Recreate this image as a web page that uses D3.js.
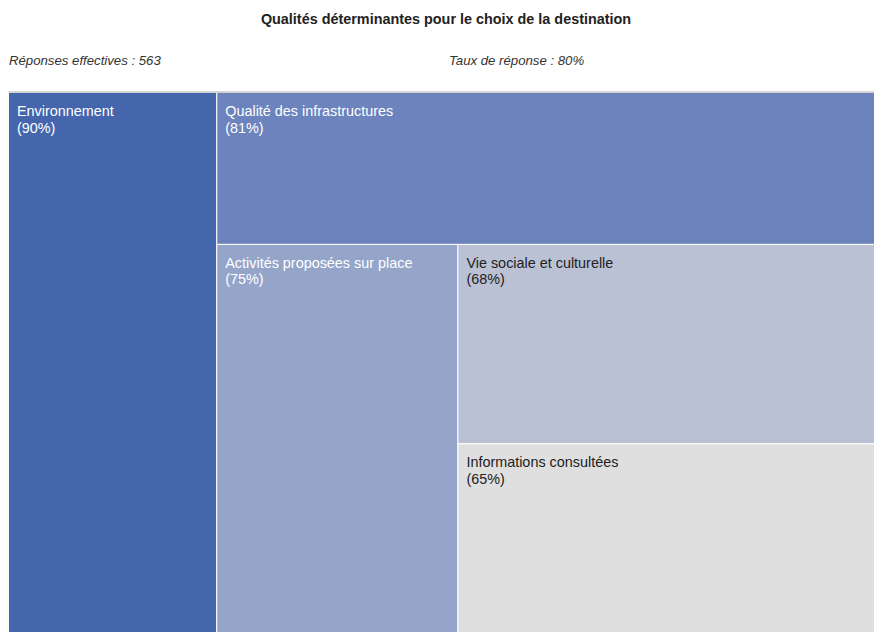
<!DOCTYPE html>
<html>
<head>
<meta charset="utf-8">
<script src="https://cdn.jsdelivr.net/npm/d3@7"></script>
<style>
  body { margin: 0; background: #fff; overflow: hidden; }
  svg { display: block; font-family: "Liberation Sans", Arial, sans-serif; }
</style>
</head>
<body>
<div id="chart"></div>
<script>
// data
var categories = ["Environnement", "Qualité des infrastructures", "Activités proposées sur place", "Vie sociale et culturelle", "Informations consultées"];
var values = [90, 81, 75, 68, 65];
var colors = ["#4566ad", "#6c83bd", "#94a5c9", "#bbc1d5", "#dfdfdf"];
var textColors = ["#ffffff", "#ffffff", "#ffffff", "#222222", "#222222"];

var title = "Qualités déterminantes pour le choix de la destination";
var subLeft = "Réponses effectives : 563";
var subRight = "Taux de réponse : 80%";

var width = 874, height = 632;
var margin = {top: 92.5, left: 8.5};
var mapW = 877, mapH = 542;

var svg = d3.select("#chart").append("svg")
    .attr("width", width)
    .attr("height", height);

svg.append("text")
    .attr("x", 446)
    .attr("y", 24)
    .attr("text-anchor", "middle")
    .style("font-size", "14.4px")
    .style("font-weight", "bold")
    .style("fill", "#222")
    .text(title);

svg.append("text")
    .attr("x", 9)
    .attr("y", 65)
    .style("font-size", "13.2px")
    .style("font-style", "italic")
    .style("fill", "#333")
    .text(subLeft);

svg.append("text")
    .attr("x", 449)
    .attr("y", 65)
    .style("font-size", "13.2px")
    .style("font-style", "italic")
    .style("fill", "#333")
    .text(subRight);

// alternate: one column on the left, then one row on top, etc.
function alternateTile(parent, x0, y0, x1, y1) {
    var nodes = parent.children, rest = parent.value;
    nodes.forEach(function (node, i) {
        var last = i === nodes.length - 1;
        var row = {value: node.value, children: [node]};
        if (i % 2 === 0) {
            var nx = last ? x1 : x0 + (x1 - x0) * node.value / rest;
            d3.treemapSlice(row, x0, y0, nx, y1);
            x0 = nx;
        } else {
            var ny = last ? y1 : y0 + (y1 - y0) * node.value / rest;
            d3.treemapDice(row, x0, y0, x1, ny);
            y0 = ny;
        }
        rest -= node.value;
    });
}

var data = {children: categories.map(function (c, i) {
    return {name: c, value: values[i], color: colors[i], textColor: textColors[i]};
})};

var root = d3.hierarchy(data).sum(function (d) { return d.value || 0; });
d3.treemap().tile(alternateTile).size([mapW, mapH])(root);

var g = svg.append("g")
    .attr("transform", "translate(" + margin.left + "," + margin.top + ")");

var cell = g.selectAll(".cell")
    .data(root.leaves())
    .enter().append("g")
    .attr("class", "cell")
    .attr("transform", function (d) { return "translate(" + d.x0 + "," + d.y0 + ")"; });

cell.append("rect")
    .attr("width", function (d) { return d.x1 - d.x0; })
    .attr("height", function (d) { return d.y1 - d.y0; })
    .style("fill", function (d) { return d.data.color; })
    .style("stroke", "#fff")
    .style("stroke-width", 1);

var label = cell.append("text")
    .style("font-size", "14.4px")
    .style("fill", function (d) { return d.data.textColor; });

label.append("tspan")
    .attr("x", 8.5)
    .attr("y", 23.5)
    .text(function (d) { return d.data.name; });

label.append("tspan")
    .attr("x", 8.5)
    .attr("y", 40)
    .text(function (d) { return "(" + d.data.value + "%)"; });

// grey top border
svg.append("line")
    .attr("x1", margin.left)
    .attr("x2", width)
    .attr("y1", margin.top - 0.5)
    .attr("y2", margin.top - 0.5)
    .style("stroke", "#aaa")
    .style("stroke-width", 1);
</script>
</body>
</html>
